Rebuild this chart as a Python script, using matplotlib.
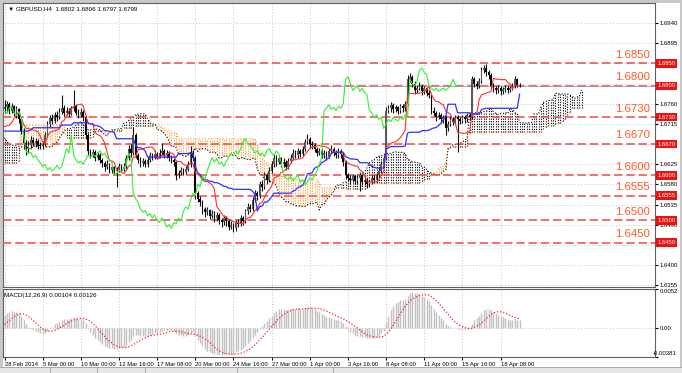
import numpy as np
import pandas as pd
import matplotlib.pyplot as plt
from matplotlib import transforms
from matplotlib.patches import Rectangle
from matplotlib.lines import Line2D

small_font = ['Liberation Sans Narrow', 'Liberation Sans', 'DejaVu Sans']
plt.rcParams['font.family'] = small_font

# GBPUSD H4, prices in pips: 6752 -> 1.6752
# bars before the first visible one (only needed for the indicators)
pre_high = [6468, 6478, 6474, 6460, 6466, 6463, 6455,
            6605, 6622, 6632, 6630, 6646, 6662, 6660, 6675, 6690, 6698, 6712, 6712,
            6720, 6738, 6758, 6776, 6796, 6812, 6823,
            6815, 6766, 6738, 6718, 6705, 6712, 6708, 6685, 6670, 6655, 6645, 6630, 6636,
            6652, 6666, 6680, 6682, 6696, 6708, 6704, 6692, 6686, 6696,
            6708, 6706, 6700, 6685, 6676, 6670, 6666, 6680, 6688, 6696,
            6695, 6690, 6675, 6665, 6655, 6660, 6676, 6688, 6686, 6680,
            6666, 6672, 6672, 6678, 6695, 6710, 6726, 6744, 6756]
pre_low = [6450, 6455, 6448, 6436, 6444, 6440, 6431,
           6440, 6600, 6606, 6610, 6615, 6636, 6640, 6645, 6665, 6678, 6686, 6694,
           6696, 6710, 6726, 6748, 6765, 6785, 6800,
           6752, 6725, 6705, 6692, 6682, 6685, 6672, 6658, 6644, 6632, 6618, 6600, 6602,
           6625, 6640, 6655, 6662, 6665, 6684, 6680, 6672, 6668, 6670,
           6686, 6688, 6675, 6664, 6658, 6648, 6650, 6656, 6670, 6676,
           6678, 6664, 6652, 6642, 6630, 6635, 6650, 6665, 6668, 6656,
           6648, 6650, 6654, 6656, 6668, 6686, 6700, 6716, 6734]
pre_close = [6462, 6470, 6455, 6448, 6460, 6452, 6445,
             6598, 6612, 6625, 6618, 6640, 6655, 6648, 6670, 6682, 6690, 6705, 6700,
             6715, 6730, 6752, 6770, 6790, 6806, 6812,
             6760, 6732, 6712, 6700, 6690, 6705, 6680, 6665, 6650, 6640, 6625, 6610, 6630,
             6645, 6660, 6675, 6670, 6690, 6700, 6685, 6680, 6675, 6690,
             6700, 6695, 6680, 6670, 6665, 6655, 6660, 6675, 6680, 6690,
             6685, 6670, 6660, 6650, 6640, 6655, 6670, 6680, 6675, 6662,
             6655, 6668, 6660, 6672, 6690, 6705, 6720, 6738, 6748]

# visible bars, 28 Feb 2014 .. 18 Apr 2014
bar_open = [6748, 6752, 6760, 6745, 6755, 6740, 6748, 6725, 6700, 6672,
            6660, 6668, 6680, 6672, 6678, 6668, 6665, 6670, 6690, 6715,
            6728, 6722, 6735, 6730, 6742, 6750, 6740, 6745, 6738, 6750,
            6755, 6740, 6735, 6742, 6730, 6690, 6655, 6648, 6652, 6640,
            6645, 6635, 6628, 6620, 6625, 6612, 6618, 6610, 6615, 6622,
            6615, 6620, 6640, 6660, 6650, 6690, 6645, 6635, 6628, 6632,
            6625, 6635, 6645, 6640, 6648, 6642, 6650, 6655, 6645, 6650,
            6640, 6635, 6630, 6600, 6605, 6612, 6608, 6615, 6625, 6650,
            6640, 6560, 6548, 6540, 6525, 6518, 6522, 6510, 6515, 6505,
            6512, 6500, 6495, 6505, 6498, 6485, 6490, 6482, 6495, 6492,
            6505, 6498, 6520, 6530, 6525, 6545, 6560, 6555, 6580, 6575,
            6600, 6590, 6610, 6625, 6640, 6630, 6638, 6625, 6630, 6620,
            6632, 6640, 6650, 6645, 6655, 6648, 6660, 6675, 6682, 6670,
            6668, 6660, 6650, 6655, 6645, 6650, 6642, 6655, 6660, 6650,
            6645, 6655, 6648, 6630, 6600, 6595, 6590, 6598, 6588, 6595,
            6600, 6585, 6590, 6580, 6585, 6595, 6590, 6600, 6610, 6625,
            6640, 6745, 6750, 6758, 6748, 6752, 6745, 6755, 6750, 6760,
            6815, 6820, 6805, 6790, 6795, 6800, 6788, 6795, 6785, 6780,
            6745, 6740, 6730, 6735, 6725, 6730, 6705, 6715, 6725, 6720,
            6730, 6725, 6722, 6730, 6725, 6735, 6730, 6815, 6805, 6800,
            6810, 6835, 6840, 6830, 6825, 6800, 6795, 6790, 6795, 6788,
            6792, 6795, 6790, 6795, 6800, 6815, 6802]
bar_high = [6768, 6766, 6764, 6762, 6758, 6754, 6750, 6730, 6705, 6680,
            6678, 6688, 6686, 6684, 6682, 6674, 6678, 6698, 6722, 6735,
            6738, 6742, 6745, 6750, 6780, 6758, 6752, 6750, 6756, 6790,
            6760, 6748, 6750, 6746, 6735, 6695, 6660, 6660, 6656, 6652,
            6650, 6640, 6632, 6634, 6628, 6624, 6622, 6620, 6628, 6626,
            6628, 6646, 6668, 6670, 6708, 6695, 6650, 6642, 6640, 6636,
            6642, 6652, 6650, 6656, 6652, 6658, 6672, 6660, 6656, 6654,
            6646, 6640, 6634, 6612, 6618, 6616, 6622, 6632, 6665, 6656,
            6644, 6566, 6555, 6545, 6530, 6530, 6526, 6522, 6520, 6518,
            6516, 6506, 6512, 6510, 6502, 6498, 6494, 6500, 6502, 6512,
            6510, 6526, 6538, 6536, 6552, 6568, 6566, 6588, 6590, 6608,
            6606, 6618, 6632, 6648, 6645, 6644, 6642, 6638, 6635, 6638,
            6648, 6658, 6656, 6662, 6660, 6666, 6682, 6692, 6686, 6676,
            6672, 6664, 6662, 6660, 6656, 6654, 6662, 6668, 6664, 6656,
            6662, 6660, 6652, 6634, 6606, 6600, 6604, 6602, 6600, 6606,
            6604, 6596, 6594, 6590, 6600, 6600, 6606, 6616, 6632, 6646,
            6752, 6758, 6764, 6762, 6758, 6756, 6760, 6760, 6766, 6824,
            6828, 6824, 6810, 6802, 6808, 6804, 6800, 6798, 6790, 6784,
            6752, 6745, 6742, 6740, 6736, 6734, 6722, 6732, 6730, 6736,
            6734, 6730, 6736, 6734, 6740, 6740, 6822, 6820, 6810, 6818,
            6842, 6846, 6848, 6836, 6828, 6806, 6800, 6802, 6800, 6798,
            6802, 6800, 6800, 6806, 6822, 6818, 6806]
bar_low = [6740, 6745, 6738, 6740, 6732, 6728, 6718, 6692, 6660, 6645,
           6652, 6662, 6665, 6664, 6660, 6658, 6660, 6666, 6686, 6708,
           6715, 6718, 6722, 6726, 6738, 6732, 6735, 6730, 6734, 6745,
           6735, 6728, 6730, 6722, 6682, 6645, 6640, 6642, 6632, 6635,
           6628, 6620, 6610, 6614, 6605, 6606, 6602, 6574, 6608, 6608,
           6610, 6615, 6635, 6642, 6645, 6638, 6628, 6620, 6622, 6618,
           6620, 6630, 6634, 6636, 6636, 6638, 6645, 6638, 6640, 6632,
           6628, 6622, 6590, 6595, 6600, 6600, 6604, 6610, 6620, 6632,
           6548, 6540, 6532, 6515, 6508, 6512, 6502, 6504, 6496, 6498,
           6492, 6486, 6490, 6488, 6478, 6480, 6473, 6476, 6484, 6488,
           6490, 6494, 6515, 6518, 6520, 6540, 6546, 6550, 6566, 6570,
           6580, 6585, 6605, 6620, 6622, 6625, 6618, 6620, 6612, 6615,
           6628, 6635, 6638, 6640, 6642, 6644, 6655, 6670, 6662, 6660,
           6652, 6644, 6645, 6638, 6640, 6635, 6638, 6650, 6644, 6638,
           6640, 6640, 6622, 6592, 6588, 6582, 6585, 6580, 6582, 6565,
           6578, 6578, 6572, 6574, 6580, 6584, 6586, 6595, 6605, 6620,
           6636, 6740, 6742, 6740, 6742, 6738, 6740, 6742, 6745, 6756,
           6808, 6798, 6782, 6785, 6790, 6780, 6782, 6778, 6772, 6738,
           6732, 6722, 6725, 6716, 6718, 6690, 6700, 6710, 6712, 6715,
           6652, 6715, 6718, 6718, 6720, 6724, 6726, 6798, 6792, 6796,
           6806, 6828, 6822, 6815, 6792, 6786, 6782, 6784, 6780, 6782,
           6786, 6784, 6786, 6790, 6796, 6798, 6797]
bar_close = [6752, 6760, 6745, 6755, 6740, 6748, 6725, 6700, 6672, 6660,
             6668, 6680, 6672, 6678, 6668, 6665, 6670, 6690, 6715, 6728,
             6722, 6735, 6730, 6742, 6750, 6740, 6745, 6738, 6750, 6755,
             6740, 6735, 6742, 6730, 6690, 6655, 6648, 6652, 6640, 6645,
             6635, 6628, 6620, 6625, 6612, 6618, 6610, 6615, 6622, 6615,
             6620, 6640, 6660, 6650, 6690, 6645, 6635, 6628, 6632, 6625,
             6635, 6645, 6640, 6648, 6642, 6650, 6655, 6645, 6650, 6640,
             6635, 6630, 6600, 6605, 6612, 6608, 6615, 6625, 6650, 6640,
             6560, 6548, 6540, 6525, 6518, 6522, 6510, 6515, 6505, 6512,
             6500, 6495, 6505, 6498, 6485, 6490, 6482, 6495, 6492, 6505,
             6498, 6520, 6530, 6525, 6545, 6560, 6555, 6580, 6575, 6600,
             6590, 6610, 6625, 6640, 6630, 6638, 6625, 6630, 6620, 6632,
             6640, 6650, 6645, 6655, 6648, 6660, 6675, 6682, 6670, 6668,
             6660, 6650, 6655, 6645, 6650, 6642, 6655, 6660, 6650, 6645,
             6655, 6648, 6630, 6600, 6595, 6590, 6598, 6588, 6595, 6600,
             6585, 6590, 6580, 6585, 6595, 6590, 6600, 6610, 6625, 6640,
             6745, 6750, 6758, 6748, 6752, 6745, 6755, 6750, 6760, 6815,
             6820, 6805, 6790, 6795, 6800, 6788, 6795, 6785, 6780, 6745,
             6740, 6730, 6735, 6725, 6730, 6705, 6715, 6725, 6720, 6730,
             6725, 6722, 6730, 6725, 6735, 6730, 6815, 6805, 6800, 6810,
             6835, 6840, 6830, 6825, 6800, 6795, 6790, 6795, 6788, 6792,
             6795, 6790, 6795, 6800, 6815, 6802, 6799]

date_labels = ["28 Feb 2014", "5 Mar 00:00", "10 Mar 00:00", "12 Mar 16:00",
               "17 Mar 08:00", "20 Mar 00:00", "24 Mar 16:00", "27 Mar 00:00",
               "1 Apr 00:00", "3 Apr 16:00", "8 Apr 08:00", "11 Apr 00:00",
               "15 Apr 16:00", "18 Apr 08:00"]
levels = [1.6850, 1.6800, 1.6730, 1.6670, 1.6600, 1.6555, 1.6500, 1.6450]
price_ticks = [1.6355, 1.6400, 1.6445, 1.6490, 1.6535, 1.6580, 1.6625,
               1.6670, 1.6715, 1.6760, 1.6805, 1.6850, 1.6895, 1.6940]
macd_ticks = [-0.00381, 0.0, 0.0052]
macd_tick_labels = ["-0.00381", "0.00", "0.0052"]
macd_title = "MACD(12,26,9) 0.00104 0.00126"

assert len(pre_high) == len(pre_low) == len(pre_close) == 78
assert len(bar_open) == len(bar_high) == len(bar_low) == len(bar_close) == 217


def to_price(a):
    return 1.0 + np.array(a, dtype=float) / 10000.0


n_pre = len(pre_close)
o = to_price(bar_open)
h = to_price(bar_high)
l = to_price(bar_low)
c = to_price(bar_close)
n = len(c)
x = np.arange(n)

# indicators on the whole history
hs = pd.Series(np.concatenate([to_price(pre_high), h]))
ls = pd.Series(np.concatenate([to_price(pre_low), l]))
cs = pd.Series(np.concatenate([to_price(pre_close), c]))
tenkan = (hs.rolling(9).max() + ls.rolling(9).min()) / 2
kijun = (hs.rolling(26).max() + ls.rolling(26).min()) / 2
span_a = (tenkan + kijun) / 2
span_b = (hs.rolling(52).max() + ls.rolling(52).min()) / 2
macd = cs.ewm(span=12, adjust=False).mean() - cs.ewm(span=26, adjust=False).mean()
signal = macd.rolling(9).mean()

W, H = 682, 373


def px_rect(x0, y0, x1, y1):
    return [x0 / W, 1 - y1 / H, (x1 - x0) / W, (y1 - y0) / H]


fig = plt.figure(figsize=(W / 100, H / 100), dpi=100)
fig.patch.set_facecolor('white')
ax = fig.add_axes(px_rect(3, 3, 655, 287))
ax2 = fig.add_axes(px_rect(3, 289, 655, 357), sharex=ax)

grid_kw = dict(color='#c4c4c4', linestyle=(0, (1, 2)), linewidth=0.7)
label_pos = np.arange(len(date_labels)) * 16

for a in (ax, ax2):
    for s in a.spines.values():
        s.set_color('#606060')
        s.set_linewidth(0.8)
    a.yaxis.tick_right()
    a.tick_params(axis='y', labelsize=4.3, length=2, pad=1.5, colors='black')
    a.set_xticks(label_pos)
    a.grid(True, axis='x', **grid_kw)
    a.set_axisbelow(True)

ax.set_xlim(-0.63, 272.77)
ax.set_ylim(1.6351, 1.6985)
ax.set_yticks(price_ticks)
# ticks that sit under a red price tag are hidden there anyway
ax.set_yticklabels(["" if min(abs(t - lv) for lv in levels) < 0.0006 else f"{t:.4f}"
                    for t in price_ticks])
ax.grid(True, axis='y', **grid_kw)
ax.tick_params(axis='x', length=0, labelbottom=False)

# ichimoku cloud: dotted vertical strokes between span A and span B
cloud_x = np.arange(len(cs)) - n_pre + 26
keep = cloud_x >= 0
cx = cloud_x[keep]
sa = span_a.values[keep]
sb = span_b.values[keep]
up = sa >= sb
dot = (0, (1, 1.3))
ax.vlines(cx[up], sb[up], sa[up], colors='#000000', linestyles=[dot], linewidth=0.8, zorder=2)
ax.vlines(cx[~up], sa[~up], sb[~up], colors='#ff9a30', linestyles=[dot], linewidth=0.8, zorder=2)
ax.plot(cx, sa, color='#000000', linestyle=':', linewidth=0.8, zorder=2)
ax.plot(cx, sb, color='#ff9a30', linestyle=':', linewidth=0.8, zorder=2)

# level lines with big labels and red price tags
tag_tr = transforms.blended_transform_factory(ax.transAxes, ax.transData)
for lv in levels:
    ax.axhline(lv, color='#f04848', linewidth=1.1, linestyle=(0, (5.5, 2.5)), zorder=3)
    ax.annotate(f"{lv:.4f}", xy=(0.992, lv), xycoords=tag_tr, xytext=(0, 2.6),
                textcoords='offset points', ha='right', va='bottom',
                fontsize=8.2, color='#ff5a22', zorder=6, family=['Liberation Sans'])
    ax.text(1.004, lv, f"{lv:.4f}", transform=tag_tr, ha='left', va='center',
            fontsize=4.2, color='white', clip_on=False, zorder=7,
            bbox=dict(boxstyle='square,pad=0.3', fc='#ee1111', ec='none'))

# bid line
ax.axhline(c[-1], color='#9a9a9a', linewidth=0.6, zorder=3)

# candles
bull = c >= o
ax.vlines(x, l, h, colors='#111111', linewidth=0.8, zorder=4)
body = np.where(np.abs(c - o) < 0.00003, 0.00003, c - o)
ax.bar(x[bull], body[bull], bottom=o[bull], width=0.7, color='#5a5a5a', linewidth=0, zorder=4)
ax.bar(x[~bull], body[~bull], bottom=o[~bull], width=0.7, color='#000000', linewidth=0, zorder=4)

# tenkan, kijun, chikou
ax.plot(x, tenkan.values[n_pre:], color='#ff3030', linewidth=0.8, zorder=5)
ax.plot(x, kijun.values[n_pre:], color='#3030ff', linewidth=0.9, zorder=5)
ax.plot(x - 26, c, color='#33ee33', linewidth=0.8, zorder=5)

ax.text(0.008, 0.979, f"\u25bc GBPUSD,H4  {o[-1]:.4f} {h[-1]:.4f} {l[-1]:.4f} {c[-1]:.4f}",
        transform=ax.transAxes, fontsize=4.5, va='center', ha='left', zorder=8)

# MACD window
mv = macd.values[n_pre:]
ax2.vlines(x, 0, mv, colors='#c0c0c0', linewidth=1.0, zorder=2)
ax2.plot(x, signal.values[n_pre:], color='#ff2020', linestyle=(0, (1, 1.5)), linewidth=0.9, zorder=3)
ax2.axhline(0, **grid_kw)
ax2.set_ylim(macd_ticks[0], macd_ticks[-1])
ax2.set_yticks(macd_ticks)
ax2.set_yticklabels([""] + macd_tick_labels[1:])
ax2.get_yticklabels()[-1].set_va('top')
# the lowest value sits a bit further left, over the axis line
ax2.text((653 - 3) / 652, 0.02, macd_tick_labels[0], transform=ax2.transAxes,
         fontsize=4.3, ha='left', va='bottom', clip_on=False)
ax2.set_xticklabels(date_labels, ha='left')
ax2.tick_params(axis='x', labelsize=4.2, length=2, pad=1.5, direction='out')
ax2.text(0.002, 0.91, macd_title, transform=ax2.transAxes, fontsize=4.5, va='center', ha='left')

# window frame and tab bar, kept behind the chart windows
for rect, col in [((0, 0, 3, 373), '#c8c8c8'), ((0, 0, 682, 3), '#c8c8c8'),
                  ((680, 0, 682, 373), '#c8c8c8'), ((0, 367, 682, 373), '#e6e6e6')]:
    x0, y0, x1, y1 = rect
    fig.add_artist(Rectangle((x0 / W, 1 - y1 / H), (x1 - x0) / W, (y1 - y0) / H,
                             transform=fig.transFigure, facecolor=col, edgecolor='none', zorder=-2))
fig.add_artist(Line2D([0, 1], [1 - 367 / H] * 2, transform=fig.transFigure,
                      color='#a0a0a0', linewidth=0.6, zorder=-1))
for sx in [50, 97, 145, 237, 333]:
    fig.add_artist(Line2D([sx / W] * 2, [0, 1 - 367 / H], transform=fig.transFigure,
                          color='#a0a0a0', linewidth=0.6, zorder=-1))

fig.savefig('out.png', dpi=100)
